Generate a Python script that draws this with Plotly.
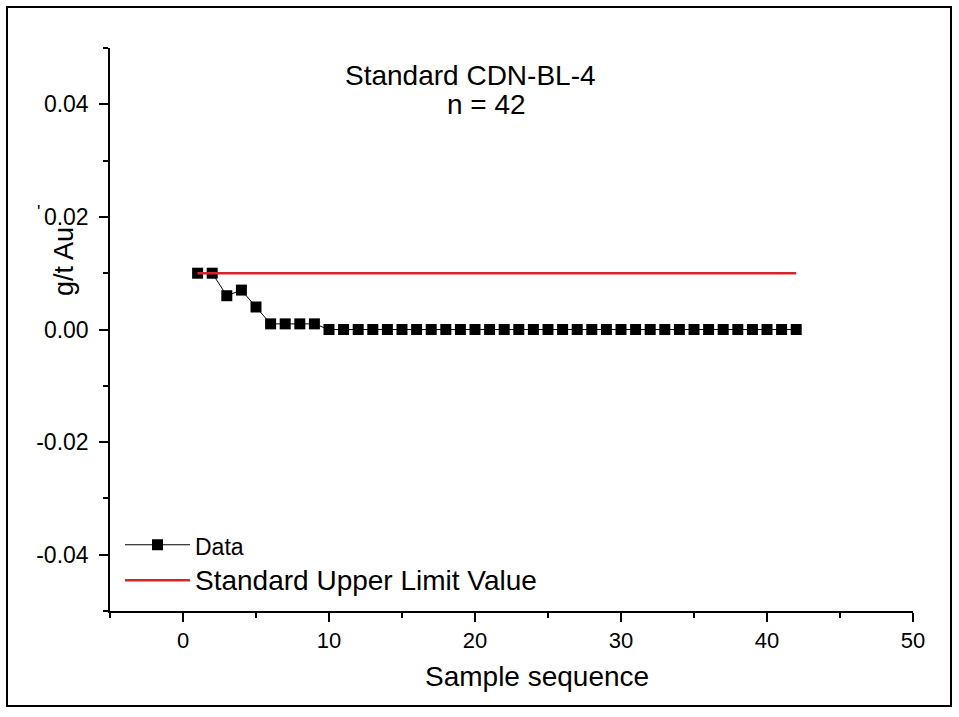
import plotly.graph_objects as go

sample_seq = list(range(1, 43))
au_values = [0.010, 0.010, 0.006, 0.007, 0.004, 0.001, 0.001, 0.001, 0.001] + [0.0] * 33
limit_x = [1, 42]
limit_y = [0.01, 0.01]

x_ticks = [0, 10, 20, 30, 40, 50]
x_minor = [-5, 5, 15, 25, 35, 45]
y_ticks = [-0.04, -0.02, 0.0, 0.02, 0.04]
y_ticktext = ["-0.04", "-0.02", "0.00", "0.02", "0.04"]
y_minor = [-0.05, -0.03, -0.01, 0.01, 0.03, 0.05]

W, H = 959, 717
L, R, T, B = 110, 46, 48, 106
PW, PH = W - L - R, H - T - B

def px(x):
    return (x - L) / PW

def py(y):
    return (H - B - y) / PH

FONT = "Liberation Sans, Arial, sans-serif"

fig = go.Figure()
fig.add_trace(go.Scatter(
    x=sample_seq, y=au_values, mode="lines+markers",
    name="<span style='font-size:23px'>Data</span>",
    line=dict(color="black", width=1),
    marker=dict(symbol="square", size=11, color="black"),
))
fig.add_trace(go.Scatter(
    x=limit_x, y=limit_y, mode="lines",
    name="<span style='font-size:28px'>Standard Upper Limit Value</span>",
    line=dict(color="#d8232a", width=2.5),
))

axis_common = dict(
    showgrid=False, zeroline=False, showline=True, linecolor="black", linewidth=1.5,
    ticks="outside", ticklen=9, tickwidth=1.5, tickcolor="black",
    mirror=False,
)
minor_common = dict(ticklen=5, tickwidth=1.5, tickcolor="black", ticks="outside")
fig.update_xaxes(range=[-5, 50], tickvals=x_ticks,
                 tickfont=dict(family=FONT, size=22, color="black"),
                 minor=dict(tickvals=x_minor, **minor_common),
                 **axis_common)
fig.update_yaxes(range=[-0.05, 0.05], tickvals=y_ticks, ticktext=y_ticktext,
                 tickfont=dict(family=FONT, size=23, color="black"),
                 ticklabelstandoff=6,
                 minor=dict(tickvals=y_minor, **minor_common),
                 **axis_common)

annotations = [
    dict(text="Standard CDN-BL-4", x=px(470), y=py(75), font=dict(size=28)),
    dict(text="n = 42", x=px(486), y=py(105), font=dict(size=28)),
    dict(text="Sample sequence", x=px(537), y=py(676), font=dict(size=28)),
    dict(text="g/t Au", x=px(64), y=py(262), font=dict(size=27), textangle=-90),
    dict(text="'", x=px(38), y=py(212), font=dict(size=18)),
]
for a in annotations:
    a.update(xref="paper", yref="paper", showarrow=False, xanchor="center", yanchor="middle")
    a["font"].update(family=FONT, color="black")

fig.update_layout(
    width=W, height=H,
    margin=dict(l=L, r=R, t=T, b=B),
    paper_bgcolor="white", plot_bgcolor="white",
    annotations=annotations,
    showlegend=True,
    legend=dict(x=px(120), y=py(522), xanchor="left", yanchor="top",
                bgcolor="rgba(0,0,0,0)", font=dict(family=FONT, size=25, color="black"),
                itemwidth=65, tracegroupgap=0),
    shapes=[dict(type="rect", xref="paper", yref="paper",
                 x0=px(7), x1=px(951), y0=py(706), y1=py(7),
                 line=dict(color="black", width=2))],
)

fig.write_html("out.html")
